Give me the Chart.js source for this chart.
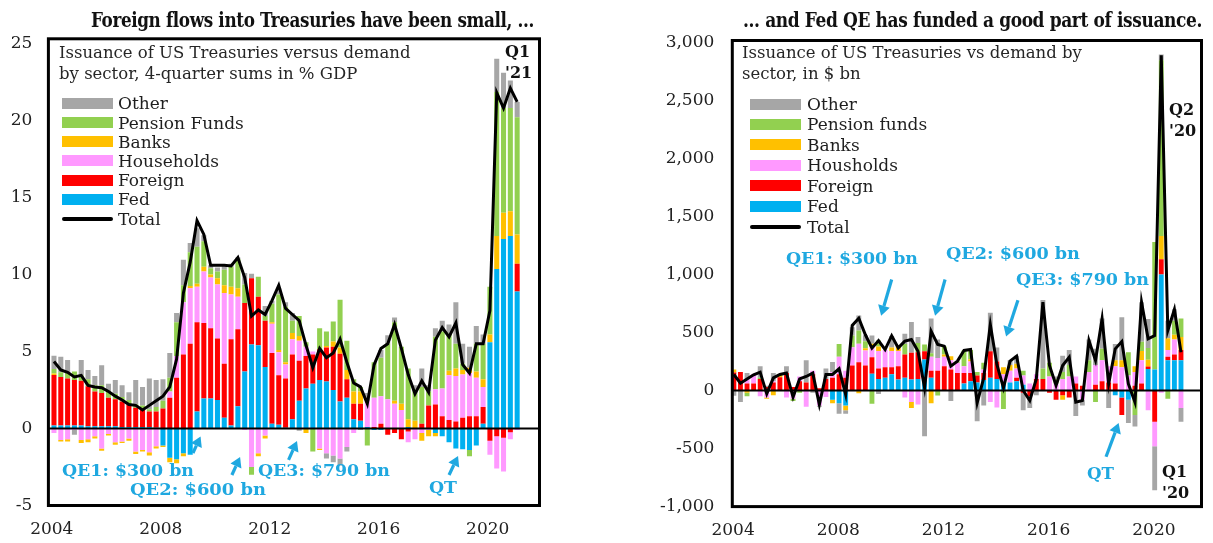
<!DOCTYPE html>
<html>
<head>
<meta charset="utf-8">
<title>US Treasuries: issuance vs demand by sector</title>
<script src="https://cdn.jsdelivr.net/npm/chart.js@4.4.1/dist/chart.umd.min.js"></script>
<style>
  html, body { margin: 0; padding: 0; background: #fff; }
  #page { position: relative; width: 1213px; height: 543px; overflow: hidden;
          font-family: "DejaVu Serif", serif; color: #1e1e1e; }
  canvas { position: absolute; top: 0; }
  #c1 { left: 0; }
  #c2 { left: 610px; }
  .abs { position: absolute; white-space: nowrap; line-height: 1; transform-origin: 0 50%; }
  .title { font-family: "DejaVu Serif Condensed", "DejaVu Serif", serif; font-weight: bold;
           font-size: 19.5px; letter-spacing: -0.4px; color: #111; }
  .sub { font-size: 16.5px; line-height: 20.7px; color: #262626; }
  .note { font-weight: bold; font-size: 17px; color: #1fa8e0; }
  .qlab { font-weight: bold; font-size: 16px; line-height: 21px; color: #111; }
  .lg-row { position: absolute; display: flex; align-items: center; height: 20px;
            font-size: 17px; white-space: nowrap; color: #1e1e1e; }
  .lg-sw { flex: none; height: 11px; }
  .lg-line { flex: none; height: 4px; background: #000; border-radius: 2px; }
</style>
</head>
<body>
<div id="page">
  <canvas id="c1" width="560" height="543"></canvas>
  <canvas id="c2" width="603" height="543"></canvas>

  <div class="abs title" data-fit="443" style="left:91px;top:11px">Foreign flows into Treasuries have been small, ...</div>
  <div class="abs title" data-fit="459" style="left:743px;top:11px">... and Fed QE has funded a good part of issuance.</div>

  <div class="abs sub" style="left:59px;top:43px">Issuance of US Treasuries versus demand<br>by sector, 4-quarter sums in % GDP</div>
  <div class="abs sub" style="left:742px;top:43px">Issuance of US Treasuries vs demand by<br>sector, in $ bn</div>

  <div class="abs note" data-fit="132" style="left:62px;top:462px">QE1: $300 bn</div>
  <div class="abs note" data-fit="136" style="left:130px;top:481px">QE2: $600 bn</div>
  <div class="abs note" data-fit="132" style="left:258px;top:462px">QE3: $790 bn</div>
  <div class="abs note" data-fit="28" style="left:429px;top:479px">QT</div>

  <div class="abs note" data-fit="132" style="left:786px;top:250px">QE1: $300 bn</div>
  <div class="abs note" data-fit="134" style="left:946px;top:245px">QE2: $600 bn</div>
  <div class="abs note" data-fit="133" style="left:1016px;top:271px">QE3: $790 bn</div>
  <div class="abs note" data-fit="27" style="left:1087px;top:465px">QT</div>

  <div class="abs qlab" style="left:505px;top:41px">Q1<br>'21</div>
  <div class="abs qlab" style="left:1169px;top:99px">Q2<br>'20</div>
  <div class="abs qlab" style="left:1162px;top:461px">Q1<br>'20</div>
</div>

<script>
// quarters 2004 Q1 .. 2021 Q1
const QUARTERS = [];
for (let y = 2004; y <= 2021; y++) {
  for (let q = 1; q <= 4; q++) {
    if (y === 2021 && q > 1) break;
    QUARTERS.push(`${y} Q${q}`);
  }
}
const YEAR_TICKS = [2004, 2008, 2012, 2016, 2020];
const GDP_TICKS = [-5, 0, 5, 10, 15, 20, 25];
const BN_TICKS = [-1000, -500, 0, 500, 1000, 1500, 2000, 2500, 3000];

// left panel: 4-quarter sums, % of GDP
const gdpFed = [0.2, 0.2, 0.2, 0.2, 0.2, 0.15, 0.15, 0.15, 0.15, 0.15,
  0.1, 0.1, 0.1, 0.1, 0.1, 0.05, -1.1, -1.9, -2.0, -1.6,
  -1.7, 1.1, 1.95, 1.95, 1.85, 0.7, 0.2, 1.45, 3.7, 5.45,
  5.4, 4.0, 0.3, 0.25, 0.05, 0.6, 1.8, 2.6, 2.9, 3.15,
  3.05, 2.5, 1.75, 2.0, 0.6, 0.5, 0.1, -0.1, -0.1, 0,
  0, 0, 0.1, 0, 0, 0, -0.3, -0.5, -0.9, -1.3,
  -1.35, -1.4, -1.1, 0.3, 5.6, 10.35, 12.3, 12.5, 8.9];
const gdpForeign = [3.27, 3.15, 3.05, 2.95, 2.9, 2.6, 2.25, 2.15, 1.85, 1.75,
  1.65, 1.45, 1.25, 1.1, 1.0, 1.05, 1.3, 2.0, 3.3, 4.8,
  5.5, 5.8, 4.9, 4.55, 4.0, 3.5, 5.6, 5.0, 4.45, 4.3,
  3.15, 3.0, 4.6, 3.2, 3.2, 4.2, 2.6, 2.1, 1.9, 2.0,
  2.2, 2.8, 3.1, 1.2, 1.0, 1.1, 0, 0.1, 0.3, -0.4,
  -0.3, -0.7, -0.2, 0, 0.3, 1.5, 1.55, 0.8, 0.55, 0.45,
  0.7, 0.8, 0.8, 1.1, -0.8, -0.5, -0.6, -0.25, 1.8];
const gdpHouseholds = [-0.3, -0.75, -0.7, -0.1, -0.75, -0.7, -0.5, -1.3, -0.35, -0.9,
  -0.85, -0.65, -1.5, -1.4, -1.55, -1.15, 0, 0.4, 1.4, 3.4,
  3.6, 2.3, 3.35, 3.3, 3.5, 4.6, 2.9, 2.1, -0.1, -2.5,
  -1.6, -0.45, 1.9, 1.5, 0.9, 1.0, 1.3, 0.6, 0.2, -1.3,
  -1.6, -1.75, -1.95, -1.2, -0.3, 0, 1.7, 1.9, 1.8, 1.9,
  1.6, 1.2, -0.7, -0.7, -0.3, -0.1, 1.0, 1.8, 2.9, 2.95,
  2.8, 2.8, 2.5, 1.3, -0.9, -2.1, -2.2, -0.45, -0.1];
const gdpBanks = [0.1, -0.1, -0.15, 0, -0.2, -0.2, -0.15, -0.15, -0.1, -0.15,
  -0.1, -0.15, -0.15, -0.1, -0.2, -0.15, -0.1, -0.3, -0.25, -0.2,
  0.15, 0.2, 0.3, 0.2, 0.4, 0.5, 0.5, 0.55, 0, 0,
  -0.2, -0.2, 0.1, 0.15, 0.15, 0.4, 0.3, -0.3, 0, -0.1,
  0.1, 0.35, 0.4, 0.6, 0.8, 0.8, 0, 0, 0, 0,
  0.2, 0.4, 0.5, 0.5, -0.5, -0.4, -0.2, 0, 0.3, 0.5,
  0.3, 0.35, 0.4, 0.5, 0.5, 2.15, 1.7, 1.6, 1.9];
const gdpPension = [0.3, 0.3, 0.35, 0.55, 0.35, 0.45, 0.4, 0.5, 0.4, 0.35,
  0.3, 0.3, 0.2, 0.3, 0.15, 0.3, 0.5, 0.9, 2.2, 1.1,
  2.2, 2.4, 1.65, 0.4, 0.45, 1.0, 1.3, 1.9, 1.2, -0.5,
  1.3, 0.3, 1.2, 3.6, 3.6, 0.8, 1.3, 0.3, -1.5, 1.35,
  0.95, 1.3, 3.1, 1.9, 0.8, 0.3, -1.1, 2.3, 2.5, 3.6,
  5.1, 3.7, 3.3, 1.9, 2.4, 0.9, 3.4, 3.7, 2.4, 1.6,
  0.4, -0.4, 1.8, 2.3, 3.1, 9.35, 6.8, 6.7, 7.6];
const gdpOther = [0.85, 1.0, 0.85, -0.3, 1.0, 0.6, 0.6, 1.3, 0.5, 0.9,
  0.75, 0.5, 1.6, 1.2, 2.0, 1.75, 1.4, 1.6, 0.6, 1.65,
  0.6, 1.2, 0.4, 0.2, 0.25, 0.3, 0.2, 0.1, 0.75, 0.3,
  0, 0.65, 0.2, 0.4, 0.3, 0.5, -0.15, 0, 0, 0,
  -0.35, -0.45, -0.45, -0.3, 0, -0.1, 0.5, 0, 0.5, 0.55,
  0.3, 0, 0, 0.4, 1.2, 0.4, 0.55, 0.7, 0.6, 2.7,
  1.3, 1.35, 1.15, 0.6, 0, 2.15, 2.3, 1.8, 1.0];
const gdpTotal = [4.35, 3.8, 3.65, 3.35, 3.45, 2.8, 2.7, 2.65, 2.4, 2.1,
  1.85, 1.55, 1.5, 1.2, 1.5, 1.8, 2.1, 2.7, 4.5, 8.8,
  10.8, 13.5, 12.6, 10.6, 10.6, 10.6, 10.55, 11.1, 9.8, 7.3,
  7.7, 7.4, 8.3, 9.3, 7.8, 7.4, 7.0, 5.4, 3.95, 5.2,
  4.6, 4.9, 5.8, 4.3, 2.95, 2.7, 1.6, 4.15, 5.2, 5.5,
  6.75, 5.2, 3.5, 2.25, 3.1, 2.35, 5.75, 6.55, 5.95, 6.85,
  4.15, 3.6, 5.5, 5.5, 7.65, 21.8, 20.8, 22.1, 21.2];

// right panel: quarterly flows, $ bn
const bnFed = [5, 0, 0, 0, 0, 0, 0, 0, 0, 0,
  0, 0, 0, 0, 0, -80, -110, -130, 0, 0,
  0, 144, 100, 110, 140, 95, 110, 95, 100, 267,
  110, 0, 0, 0, 0, 60, 80, 70, 90, 109,
  100, 60, 70, 80, 50, 0, 0, 0, 0, 0,
  0, 0, 0, 0, 0, 0, 0, 0, -40, -60,
  -80, 0, 0, 186, 180, 1000, 260, 260, 260];
const bnForeign = [150, 160, 60, 60, 100, 30, 70, 115, 150, 30,
  80, 70, 140, 20, 100, 110, 140, 110, 215, 244,
  215, 143, 90, 90, 60, 115, 200, 230, 230, 72,
  60, 170, 210, 180, 150, 90, 70, 60, 60, 230,
  150, 0, 0, 30, -20, -50, 100, 100, -20, -80,
  -40, -60, 60, 40, 0, 50, 80, 70, 60, -150,
  0, 40, 60, 20, -270, 130, 30, 50, 90];
const bnHouseholds = [0, 0, 40, 80, -50, -60, 10, 0, -60, -70,
  40, -140, 30, -130, -55, 50, 150, 60, 158, 158,
  130, 86, 150, 150, 140, 130, -60, -100, -120, 0,
  120, 110, 80, 80, 90, 60, 100, 0, 30, -100,
  -146, 80, 100, 80, 80, 60, 40, 0, 120, 60,
  100, 120, 60, -80, 160, 170, 180, 140, 150, 200,
  130, 120, 200, -170, -210, -20, 60, 130, -150];
const bnBanks = [25, 0, -20, 0, 0, -10, -40, 25, 0, 0,
  0, 0, 0, 0, 0, -30, 0, -40, 0, -23,
  20, 30, 40, 0, 30, 45, 0, -50, 0, 0,
  -110, 0, 20, 36, 0, 0, 20, 0, 0, 0,
  0, 60, 50, 40, 0, 0, 0, 0, 0, 0,
  -40, 0, 0, 0, 0, 0, 0, 0, 50, 60,
  0, 50, 80, 60, 0, 200, 100, 40, 110];
const bnPension = [0, 0, -30, 0, 10, 0, 0, 0, 0, -20,
  -20, 0, 0, 0, 0, 0, 110, 0, 100, 115,
  60, -115, 50, 0, 0, 0, 90, 0, 80, 58,
  30, -43, 70, 0, 10, 135, 80, 30, 60, 0,
  0, -160, 0, 0, 40, 0, 0, 90, 120, 40,
  60, 100, 0, 0, 100, -100, 100, 0, 0, 0,
  200, -210, 80, 100, 1100, 1514, -70, 120, 160];
const bnOther = [-45, -100, 50, 0, 100, 10, 70, 0, 60, 0,
  0, 190, -20, -10, 90, 85, -90, -30, 73, 129,
  50, 70, -30, 0, 100, 0, 90, 265, 50, -394,
  300, 160, 0, -90, 0, 0, 0, -264, -130, 330,
  120, 0, 40, 70, -150, -100, -40, 590, 0, 20,
  140, 130, -220, -50, 180, 140, 260, -150, 140, 370,
  -200, -100, 340, 250, -380, 50, 150, 100, -120];
const bnTotal = [138, 63, 100, 135, 158, -29, 109, 138, 150, -57,
  100, 121, 150, -121, 138, 138, 187, -34, 560, 623,
  480, 365, 430, 352, 472, 367, 425, 440, 339, 23,
  511, 397, 382, 210, 253, 345, 353, -106, 109, 569,
  224, 23, 253, 296, 0, -86, 100, 761, 215, 43,
  215, 287, -100, -86, 431, 259, 618, 57, 359, 422,
  57, -100, 761, 445, 474, 2888, 517, 698, 330];

const COLORS = {
  Other: '#a6a6a6',
  Pension: '#92d050',
  Banks: '#ffc000',
  Households: '#ff99ff',
  Foreign: '#ff0000',
  Fed: '#00b0f0',
};
const NOTE_BLUE = '#1fa8e0';

function quarterX(label, shift) {
  const [y, q] = label.split(' Q').map(Number);
  return y + (q - 1) / 4 + shift;
}

function points(values, shift) {
  return values.map((v, i) => ({ x: quarterX(QUARTERS[i], shift), y: v }));
}

function drawArrow(ctx, x1, y1, x2, y2, color) {
  const ang = Math.atan2(y2 - y1, x2 - x1);
  const head = 10;
  const half = 6;
  const bx = x2 - head * Math.cos(ang);
  const by = y2 - head * Math.sin(ang);
  ctx.strokeStyle = color;
  ctx.fillStyle = color;
  ctx.lineWidth = 3.2;
  ctx.beginPath();
  ctx.moveTo(x1, y1);
  ctx.lineTo(bx, by);
  ctx.stroke();
  ctx.beginPath();
  ctx.moveTo(x2, y2);
  ctx.lineTo(bx + half * Math.sin(ang), by - half * Math.cos(ang));
  ctx.lineTo(bx - half * Math.sin(ang), by + half * Math.cos(ang));
  ctx.closePath();
  ctx.fill();
}

// zero line over the bars, frame and QE arrows on top of everything
const decorPlugin = {
  id: 'decor',
  afterDatasetDraw(chart, args) {
    if (args.index !== 1) return;
    const { ctx, chartArea: a } = chart;
    const y0 = chart.scales.y.getPixelForValue(0);
    ctx.save();
    ctx.strokeStyle = '#000';
    ctx.lineWidth = 2.2;
    ctx.beginPath();
    ctx.moveTo(a.left, y0);
    ctx.lineTo(a.right, y0);
    ctx.stroke();
    ctx.restore();
  },
  afterDraw(chart, args, opts) {
    const { ctx, chartArea: a } = chart;
    const { x, y } = chart.scales;
    ctx.save();
    ctx.strokeStyle = '#000';
    ctx.lineWidth = 3;
    ctx.strokeRect(a.left, a.top, a.right - a.left, a.bottom - a.top);
    (opts.arrows || []).forEach((ar) => {
      drawArrow(ctx,
        x.getPixelForValue(ar.from[0]), y.getPixelForValue(ar.from[1]),
        x.getPixelForValue(ar.to[0]), y.getPixelForValue(ar.to[1]), NOTE_BLUE);
    });
    ctx.restore();
  },
};

function makePanel(p) {
  const bar = (label, data, color) => ({
    type: 'bar',
    label,
    data: points(data, p.shift),
    backgroundColor: color,
    borderWidth: 0,
    stack: 'bars',
    barPercentage: 0.74,
    categoryPercentage: 1,
  });
  const tickFont = { family: 'DejaVu Serif', size: 17 };

  return new Chart(document.getElementById(p.canvas), {
    type: 'bar',
    data: {
      datasets: [
        {
          type: 'line',
          label: 'Total',
          data: points(p.total, p.shift),
          borderColor: '#000',
          borderWidth: 3,
          pointRadius: 0,
          tension: 0,
          fill: false,
          stack: 'total',
        },
        bar('Fed', p.fed, COLORS.Fed),
        bar('Foreign', p.foreign, COLORS.Foreign),
        bar('Households', p.households, COLORS.Households),
        bar('Banks', p.banks, COLORS.Banks),
        bar(p.pensionLabel, p.pension, COLORS.Pension),
        bar('Other', p.other, COLORS.Other),
      ],
    },
    options: {
      responsive: false,
      animation: false,
      events: [],
      layout: { padding: { top: p.padTop, right: p.padRight, left: 0, bottom: 0 } },
      plugins: {
        legend: { display: false },
        tooltip: { enabled: false },
        decor: { arrows: p.arrows },
      },
      scales: {
        x: {
          type: 'linear',
          stacked: true,
          offset: false,
          min: p.xMin,
          max: p.xMax,
          afterBuildTicks: (s) => { s.ticks = YEAR_TICKS.map((v) => ({ value: v })); },
          afterFit: (s) => { s.height = p.xHeight; },
          grid: { display: false, drawTicks: false, offset: false },
          border: { display: false },
          ticks: {
            autoSkip: false,
            maxRotation: 0,
            padding: p.xPad,
            color: '#222',
            font: tickFont,
            callback: (v) => String(v),
          },
        },
        y: {
          type: 'linear',
          stacked: true,
          min: p.yMin,
          max: p.yMax,
          afterBuildTicks: (s) => { s.ticks = p.yTicks.map((v) => ({ value: v })); },
          afterFit: (s) => { s.width = p.yWidth; },
          grid: { drawTicks: false, color: 'rgba(0,0,0,0)' },
          border: { display: false },
          ticks: {
            padding: p.yPad,
            color: '#222',
            font: tickFont,
            callback: (v) => v.toLocaleString('en-US'),
          },
        },
      },
    },
    plugins: [decorPlugin],
  });
}

makePanel({
  canvas: 'c1',
  shift: 0.08,
  xMin: 2003.875, xMax: 2021.9,
  yMin: -5, yMax: 25.3, yTicks: GDP_TICKS,
  yWidth: 48.4, xHeight: 37.5, padTop: 38.8, padRight: 20.5,
  yPad: 16, xPad: 14,
  pensionLabel: 'Pension Funds',
  fed: gdpFed, foreign: gdpForeign, households: gdpHouseholds,
  banks: gdpBanks, pension: gdpPension, other: gdpOther, total: gdpTotal,
  arrows: [
    { from: [2009.18, -1.59], to: [2009.46, -0.52] },
    { from: [2010.61, -3.02], to: [2010.91, -1.85] },
    { from: [2012.69, -2.04], to: [2013.0, -0.81] },
    { from: [2018.58, -3.02], to: [2018.91, -1.78] },
  ],
});

makePanel({
  canvas: 'c2',
  shift: 0.03,
  xMin: 2003.97, xMax: 2021.81,
  yMin: -1000, yMax: 3015, yTicks: BN_TICKS,
  yWidth: 122.3, xHeight: 36.4, padTop: 40.5, padRight: 11.5,
  yPad: 18, xPad: 14,
  pensionLabel: 'Pension funds',
  fed: bnFed, foreign: bnForeign, households: bnHouseholds,
  banks: bnBanks, pension: bnPension, other: bnOther, total: bnTotal,
  arrows: [
    { from: [2010.03, 956], to: [2009.63, 645] },
    { from: [2012.06, 956], to: [2011.68, 645] },
    { from: [2014.83, 778], to: [2014.38, 465] },
    { from: [2018.18, -571], to: [2018.66, -280] },
  ],
});

// html legends, top-left inside each frame
function buildLegend(cfg) {
  const page = document.getElementById('page');
  cfg.items.forEach(([label, color], k) => {
    const row = document.createElement('div');
    row.className = 'lg-row';
    row.style.left = cfg.left + 'px';
    row.style.top = (cfg.firstCenter + k * cfg.step - 10) + 'px';
    const sw = document.createElement('div');
    sw.className = color ? 'lg-sw' : 'lg-line';
    sw.style.width = cfg.swatch + 'px';
    if (color) sw.style.background = color;
    sw.style.marginRight = cfg.gap + 'px';
    const txt = document.createElement('span');
    txt.textContent = label;
    row.appendChild(sw);
    row.appendChild(txt);
    page.appendChild(row);
  });
}

buildLegend({
  left: 62, swatch: 51, gap: 5, firstCenter: 103.3, step: 19.2,
  items: [['Other', COLORS.Other], ['Pension Funds', COLORS.Pension], ['Banks', COLORS.Banks],
    ['Households', COLORS.Households], ['Foreign', COLORS.Foreign], ['Fed', COLORS.Fed], ['Total', null]],
});
buildLegend({
  left: 750, swatch: 51, gap: 6, firstCenter: 104, step: 20.45,
  items: [['Other', COLORS.Other], ['Pension funds', COLORS.Pension], ['Banks', COLORS.Banks],
    ['Housholds', COLORS.Households], ['Foreign', COLORS.Foreign], ['Fed', COLORS.Fed], ['Total', null]],
});

// squeeze titles and notes to the widths they take in the original
document.querySelectorAll('[data-fit]').forEach((el) => {
  const w = el.getBoundingClientRect().width;
  if (w > 0) el.style.transform = `scaleX(${(Number(el.dataset.fit) / w).toFixed(3)})`;
});
</script>
</body>
</html>
